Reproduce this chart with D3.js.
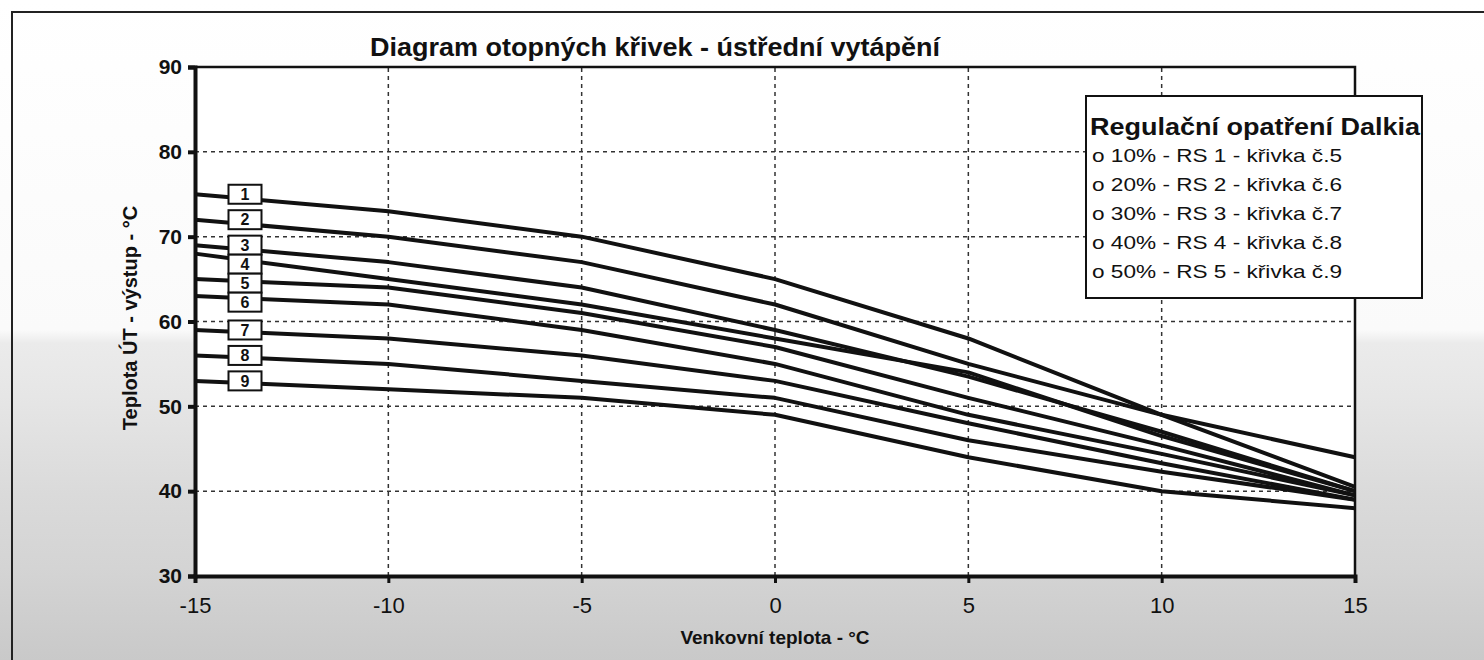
<!DOCTYPE html>
<html>
<head>
<meta charset="utf-8">
<script src="https://cdn.jsdelivr.net/npm/d3@7"></script>
<style>
  body { margin: 0; background: #fff; }
  svg { display: block; font-family: "Liberation Sans", Arial, sans-serif; }
</style>
</head>
<body>
<svg id="chart" width="1484" height="660"></svg>
<script>
var chart_title = "Diagram otopných křivek - ústřední vytápění";
var x_title = "Venkovní teplota - °C";
var y_title = "Teplota ÚT - výstup - °C";

// outdoor temperature points (x)
var outdoor = [-15, -10, -5, 0, 5, 10, 15];

// supply temperature of each heating curve
var curve_1 = [75, 73, 70, 65, 58, 49, 40.5];
var curve_2 = [72, 70, 67, 62, 55, 49, 44];
var curve_3 = [69, 67, 64, 59, 53.5, 47, 40];
var curve_4 = [68, 65, 62, 58, 54, 46.5, 40];
var curve_5 = [65, 64, 61, 57, 51, 45.4, 39.5];
var curve_6 = [63, 62, 59, 55, 49, 44.4, 39.5];
var curve_7 = [59, 58, 56, 53, 48, 43.3, 39];
var curve_8 = [56, 55, 53, 51, 46, 42.3, 39];
var curve_9 = [53, 52, 51, 49, 44, 40, 38];

var curve_names = ["1", "2", "3", "4", "5", "6", "7", "8", "9"];
var curves = [curve_1, curve_2, curve_3, curve_4, curve_5, curve_6, curve_7, curve_8, curve_9];

var x_ticks = [-15, -10, -5, 0, 5, 10, 15];
var y_ticks = [30, 40, 50, 60, 70, 80, 90];

var legend_title = "Regulační opatření Dalkia";
var legend_rows = [
  "o 10% - RS 1 - křivka č.5",
  "o 20% - RS 2 - křivka č.6",
  "o 30% - RS 3 - křivka č.7",
  "o 40% - RS 4 - křivka č.8",
  "o 50% - RS 5 - křivka č.9"
];

var W = 1484, H = 660;
var margin = {top: 67, right: 129, bottom: 84, left: 195};
var svg = d3.select("#chart");

// scanned-page background
var defs = svg.append("defs");
var grad = defs.append("linearGradient")
  .attr("id", "paper")
  .attr("x1", 0).attr("y1", 0).attr("x2", 0).attr("y2", 1);
[[0, "#ffffff"], [0.5, "#fafafa"], [0.52, "#ebebeb"], [0.6, "#e6e6e6"], [0.75, "#dadada"], [0.86, "#d4d4d4"], [1, "#c9c9c9"]]
  .forEach(function(s) {
    grad.append("stop").attr("offset", s[0]).attr("stop-color", s[1]);
  });
svg.append("rect").attr("width", W).attr("height", H).attr("fill", "url(#paper)");

// outer frame
svg.append("rect")
  .attr("x", 12).attr("y", 12)
  .attr("width", W).attr("height", H)
  .attr("fill", "none").attr("stroke", "#222").attr("stroke-width", 2);

var x = d3.scaleLinear()
  .domain([-15, 15])
  .range([margin.left, W - margin.right]);

var y = d3.scaleLinear()
  .domain([30, 90])
  .range([H - margin.bottom, margin.top]);

// plot area
svg.append("rect")
  .attr("x", x(-15)).attr("y", y(90))
  .attr("width", x(15) - x(-15)).attr("height", y(30) - y(90))
  .attr("fill", "#fff");

// dashed grid
var grid = svg.append("g").attr("class", "grid")
  .attr("stroke", "#333").attr("stroke-width", 1.5).attr("stroke-dasharray", "4,4");
grid.selectAll("line.h")
  .data(y_ticks.slice(1, -1))
  .enter().append("line")
  .attr("x1", x(-15)).attr("x2", x(15))
  .attr("y1", function(d) { return y(d); })
  .attr("y2", function(d) { return y(d); });
grid.selectAll("line.v")
  .data(x_ticks.slice(1, -1))
  .enter().append("line")
  .attr("y1", y(30)).attr("y2", y(90))
  .attr("x1", function(d) { return x(d); })
  .attr("x2", function(d) { return x(d); });

// top and right frame
svg.append("path")
  .attr("d", "M" + x(-15) + "," + y(90) + "H" + x(15) + "V" + y(30))
  .attr("fill", "none").attr("stroke", "#111").attr("stroke-width", 2.5);

// curves
var line = d3.line()
  .x(function(d) { return x(d[0]); })
  .y(function(d) { return y(d[1]); });

svg.append("g").selectAll("path")
  .data(curves)
  .enter().append("path")
  .attr("d", function(c) { return line(outdoor.map(function(t, i) { return [t, c[i]]; })); })
  .attr("fill", "none")
  .attr("stroke", "#111")
  .attr("stroke-width", 4)
  .attr("stroke-linejoin", "round");

// axes
var xAxis = d3.axisBottom(x).tickValues(x_ticks).tickSize(7).tickPadding(14)
  .tickFormat(function(d) { return String(d); });
var yAxis = d3.axisLeft(y).tickValues(y_ticks).tickSize(7).tickPadding(6);

var gx = svg.append("g")
  .attr("transform", "translate(0," + y(30) + ")")
  .call(xAxis);
gx.select(".domain").attr("stroke", "#111").attr("stroke-width", 4);
gx.selectAll(".tick line").attr("stroke", "#111").attr("stroke-width", 3);
gx.selectAll(".tick text")
  .attr("fill", "#111")
  .style("font-size", "22px");

var gy = svg.append("g")
  .attr("transform", "translate(" + x(-15) + ",0)")
  .call(yAxis);
gy.select(".domain").attr("stroke", "#111").attr("stroke-width", 4);
gy.selectAll(".tick line").attr("stroke", "#111").attr("stroke-width", 4);
gy.selectAll(".tick text")
  .attr("fill", "#111")
  .style("font-size", "21px")
  .style("font-weight", "bold");

// number boxes on the curves, pushed down where they would overlap
var box_w = 33, box_h = 19;
var box_y = [];
curves.forEach(function(c, i) {
  var yy = y(c[0]);
  if (i > 0 && yy < box_y[i - 1] + box_h) yy = box_y[i - 1] + box_h;
  box_y.push(yy);
});
var boxes = svg.append("g").selectAll("g")
  .data(curve_names)
  .enter().append("g")
  .attr("transform", function(d, i) { return "translate(" + (x(-15) + 50) + "," + box_y[i] + ")"; });
boxes.append("rect")
  .attr("x", -box_w / 2).attr("y", -box_h / 2)
  .attr("width", box_w).attr("height", box_h)
  .attr("fill", "#fff").attr("stroke", "#111").attr("stroke-width", 2);
boxes.append("text")
  .attr("text-anchor", "middle").attr("dy", "0.36em")
  .style("font-size", "16px").style("font-weight", "bold")
  .attr("fill", "#111")
  .text(function(d) { return d; });

// titles
svg.append("text")
  .attr("x", 655).attr("y", 56)
  .attr("text-anchor", "middle")
  .attr("textLength", 570).attr("lengthAdjust", "spacingAndGlyphs")
  .style("font-size", "26px").style("font-weight", "bold")
  .attr("fill", "#111")
  .text(chart_title);

svg.append("text")
  .attr("x", (x(-15) + x(15)) / 2).attr("y", 644)
  .attr("text-anchor", "middle")
  .style("font-size", "19px").style("font-weight", "bold")
  .attr("fill", "#111")
  .text(x_title);

svg.append("text")
  .attr("transform", "translate(137," + 318 + ") rotate(-90)")
  .attr("text-anchor", "middle")
  .style("font-size", "20px").style("font-weight", "bold")
  .attr("fill", "#111")
  .text(y_title);

// legend
var lg = svg.append("g").attr("transform", "translate(1086,96)");
lg.append("rect")
  .attr("width", 336).attr("height", 202)
  .attr("fill", "#fff").attr("stroke", "#111").attr("stroke-width", 2);
lg.append("text")
  .attr("x", 4).attr("y", 39)
  .attr("textLength", 330).attr("lengthAdjust", "spacingAndGlyphs")
  .style("font-size", "23px").style("font-weight", "bold")
  .attr("fill", "#111")
  .text(legend_title);
lg.selectAll("text.row")
  .data(legend_rows)
  .enter().append("text")
  .attr("class", "row")
  .attr("x", 6)
  .attr("y", function(d, i) { return 66 + i * 29; })
  .attr("textLength", 250).attr("lengthAdjust", "spacingAndGlyphs")
  .style("font-size", "19px")
  .attr("fill", "#111")
  .text(function(d) { return d; });
</script>
</body>
</html>
